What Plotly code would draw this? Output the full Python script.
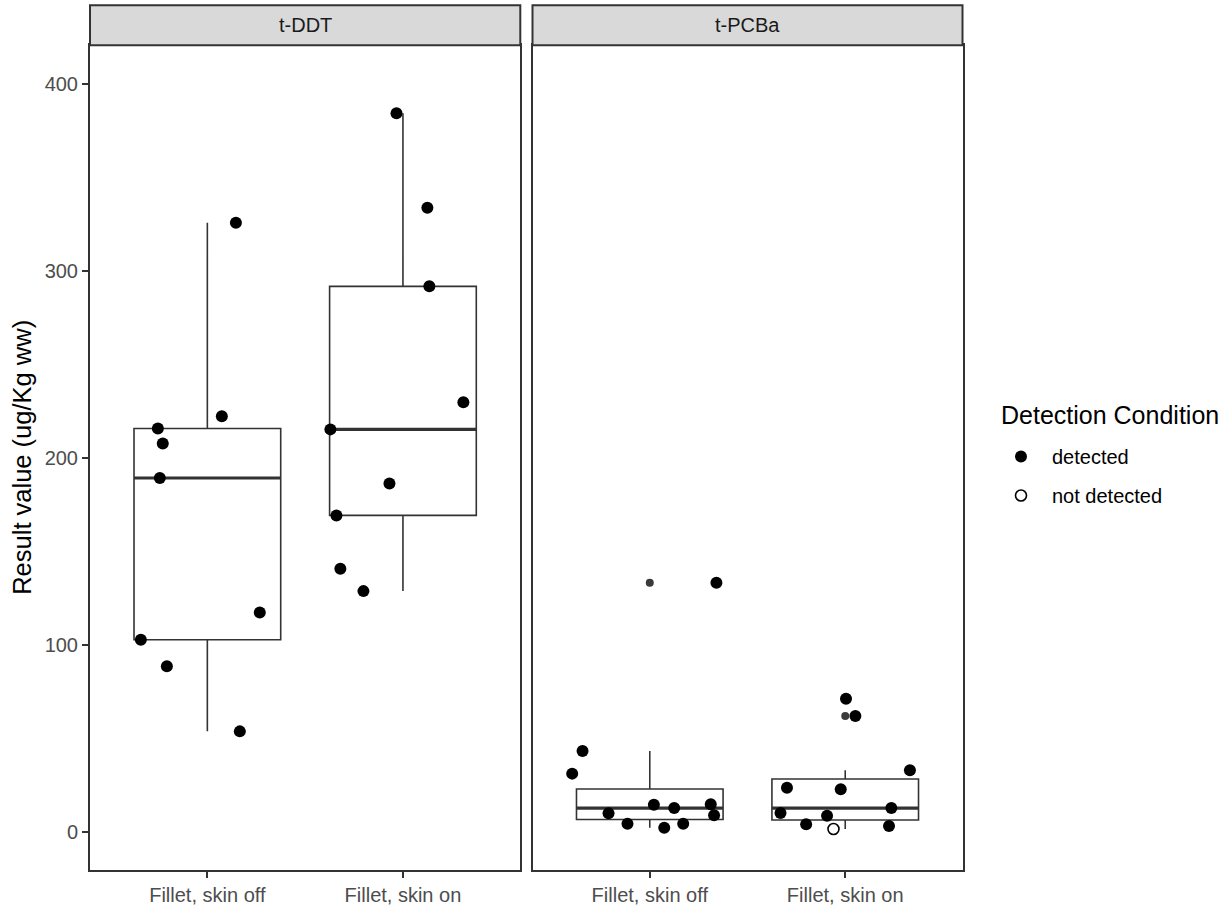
import numpy as np
import plotly.graph_objects as go

# ---------------- data ----------------
panels = ["t-DDT", "t-PCBa"]
categories = ["Fillet, skin off", "Fillet, skin on"]
conditions = ["detected", "not detected"]

# t-DDT
ddt_off_values = [326, 222.5, 216, 208, 189.5, 117.6, 103, 88.8, 54]
ddt_off_jitter = [0.146, 0.074, -0.253, -0.228, -0.243, 0.268, -0.340, -0.207, 0.166]
ddt_off_cond = ["detected"] * 9

ddt_on_values = [384.5, 334, 292, 230, 215.5, 186.6, 169.5, 141, 129]
ddt_on_jitter = [-0.033, 0.125, 0.135, 0.309, -0.371, -0.069, -0.340, -0.320, -0.202]
ddt_on_cond = ["detected"] * 9

# t-PCBa
pcb_off_values = [133.5, 43.5, 31.4, 10.2, 4.6, 14.8, 2.5, 13.0, 4.6, 15.0, 9.1]
pcb_off_jitter = [0.341, -0.344, -0.397, -0.211, -0.114, 0.021, 0.074, 0.125, 0.171, 0.312, 0.329]
pcb_off_cond = ["detected"] * 11

pcb_on_values = [71.5, 62.2, 33.2, 23.9, 23.0, 10.3, 8.9, 4.3, 13.0, 3.4, 1.8]
pcb_on_jitter = [0.004, 0.052, 0.331, -0.298, -0.023, -0.331, -0.093, -0.200, 0.236, 0.224, -0.060]
pcb_on_cond = ["detected"] * 10 + ["not detected"]

data = {
    "t-DDT": [(ddt_off_values, ddt_off_jitter, ddt_off_cond),
              (ddt_on_values, ddt_on_jitter, ddt_on_cond)],
    "t-PCBa": [(pcb_off_values, pcb_off_jitter, pcb_off_cond),
               (pcb_on_values, pcb_on_jitter, pcb_on_cond)],
}

# ---------------- style ----------------
FONT = "Liberation Sans"
DARK = "#333333"
TICKTXT = "#4D4D4D"
BOXW = 0.75
TXT = 20
TITLE = 25
W, H = 1227, 906
panel_px = [(90, 520.3), (532.5, 962.5)]
top_px, bottom_px, strip_top_px = 45.3, 870.3, 5.3

fig = go.Figure()
legend_shown = set()

for pi, panel in enumerate(panels):
    xa = "x" if pi == 0 else "x2"
    ya = "y" if pi == 0 else "y2"
    # boxes
    for ci, (vals, jit, cond) in enumerate(data[panel]):
        pos = ci + 1
        fig.add_trace(go.Box(
            x=[pos] * len(vals), y=vals, xaxis=xa, yaxis=ya,
            width=BOXW, whiskerwidth=0, quartilemethod="inclusive",
            boxpoints="outliers", jitter=0, pointpos=0,
            line=dict(color=DARK, width=1.6), fillcolor="rgba(255,255,255,0)",
            marker=dict(color="#3a3a3a", size=8, line=dict(width=0)),
            showlegend=False, hoverinfo="skip"))
        med = float(np.median(vals))
        fig.add_trace(go.Scatter(
            x=[pos - BOXW / 2, pos + BOXW / 2], y=[med, med], xaxis=xa, yaxis=ya,
            mode="lines", line=dict(color=DARK, width=3.2),
            showlegend=False, hoverinfo="skip"))
    # points
    for cond_name in conditions:
        xs, ys = [], []
        for ci, (vals, jit, cond) in enumerate(data[panel]):
            for v, j, c in zip(vals, jit, cond):
                if c == cond_name:
                    xs.append(ci + 1 + j)
                    ys.append(v)
        if cond_name == "detected":
            marker = dict(color="black", size=12, symbol="circle", line=dict(width=0))
        else:
            marker = dict(color="black", size=11, symbol="circle-open", line=dict(width=1.6))
        show = (cond_name not in legend_shown) and len(xs) > 0
        if show:
            legend_shown.add(cond_name)
        fig.add_trace(go.Scatter(
            x=xs, y=ys, xaxis=xa, yaxis=ya, mode="markers", marker=marker,
            name=cond_name, legendgroup=cond_name, showlegend=show,
            legendrank=conditions.index(cond_name)))

# ---------------- layout ----------------
def px_x(p):
    return p / W

def px_y(p):
    return 1 - p / H

yrange = [-20.3, 420.9]
axis_common = dict(showgrid=False, zeroline=False, showline=True, mirror=True,
                   linecolor=DARK, linewidth=2)

layout = dict(
    width=W, height=H, margin=dict(l=0, r=0, t=0, b=0),
    paper_bgcolor="white", plot_bgcolor="white",
    font=dict(family=FONT, color="#1A1A1A"),
    boxmode="overlay",
    showlegend=True,
    legend=dict(
        font=dict(size=TXT, color="black", family=FONT),
        x=px_x(990), xanchor="left", y=px_y(437), yanchor="top",
        tracegroupgap=10, itemsizing="trace", itemwidth=52,
        bgcolor="rgba(0,0,0,0)"),
)
for pi in range(2):
    suffix = "" if pi == 0 else "2"
    x0, x1 = panel_px[pi]
    layout["xaxis" + suffix] = dict(
        axis_common, domain=[px_x(x0), px_x(x1)], range=[0.4, 2.6],
        tickmode="array", tickvals=[1, 2], ticktext=categories,
        ticks="outside", ticklen=6, tickwidth=1.6, tickcolor=DARK,
        tickfont=dict(size=TXT, color=TICKTXT, family=FONT),
        anchor="y" + suffix)
    layout["yaxis" + suffix] = dict(
        axis_common, domain=[px_y(bottom_px), px_y(top_px)], range=yrange,
        tickmode="array", tickvals=[0, 100, 200, 300, 400],
        ticks="outside" if pi == 0 else "", ticklen=6, tickwidth=1.6, tickcolor=DARK,
        showticklabels=(pi == 0),
        tickfont=dict(size=TXT, color=TICKTXT, family=FONT),
        anchor="x" + suffix, matches=None if pi == 0 else "y")

shapes, annotations = [], []
for pi, panel in enumerate(panels):
    x0, x1 = panel_px[pi]
    shapes.append(dict(type="rect", xref="paper", yref="paper",
                       x0=px_x(x0), x1=px_x(x1), y0=px_y(top_px), y1=px_y(strip_top_px),
                       fillcolor="#D9D9D9", line=dict(color=DARK, width=2), layer="above"))
    annotations.append(dict(text=panel, xref="paper", yref="paper",
                            x=px_x((x0 + x1) / 2), y=px_y((top_px + strip_top_px) / 2),
                            showarrow=False, font=dict(size=TXT, color="#1A1A1A", family=FONT),
                            xanchor="center", yanchor="middle"))
annotations.append(dict(text="Result value (ug/Kg ww)", xref="paper", yref="paper",
                        x=px_x(22), y=px_y((top_px + bottom_px) / 2), textangle=-90,
                        showarrow=False, font=dict(size=TITLE + 0.5, color="black", family=FONT),
                        xanchor="center", yanchor="middle"))
annotations.append(dict(text="Detection Condition", xref="paper", yref="paper",
                        x=px_x(999), y=px_y(415), showarrow=False,
                        font=dict(size=TITLE, color="black", family=FONT),
                        xanchor="left", yanchor="middle"))
layout["shapes"] = shapes
layout["annotations"] = annotations

fig.update_layout(**layout)
fig.write_html("out.html", config=dict(displayModeBar=False),
               post_script="document.body.style.margin='0px'; document.body.style.overflow='hidden';")
